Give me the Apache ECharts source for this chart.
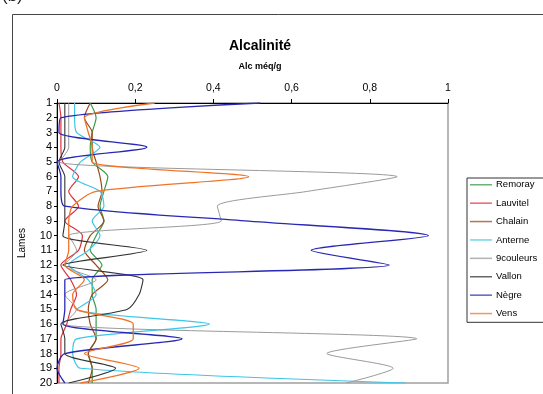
<!DOCTYPE html>
<html>
<head>
<meta charset="utf-8">
<script src="https://cdn.jsdelivr.net/npm/echarts@6/dist/echarts.min.js"></script>
<style>
  html, body { margin: 0; padding: 0; background: #fff; }
  #chart { width: 543px; height: 394px; }
</style>
</head>
<body>
<div id="chart"></div>
<script>
// Alkalinity profiles (méq/g) per lamina, lamina 1 at the top
const lames = [1, 2, 3, 4, 5, 6, 7, 8, 9, 10, 11, 12, 13, 14, 15, 16, 17, 18, 19, 20];
const xTicks = [0, 0.2, 0.4, 0.6, 0.8, 1];

const remoray   = [0.085, 0.10, 0.09, 0.085, 0.09, 0.13, 0.12, 0.11, 0.12, 0.10, 0.085, 0.115, 0.09, 0.09, 0.10, 0.10, 0.10, 0.08, 0.09, 0.09];
const lauvitel  = [0.005, 0.01, 0.01, 0.01, 0.015, 0.055, 0.03, 0.055, 0.02, 0.065, 0.055, 0.01, 0.035, 0.05, 0.035, 0.025, 0.01, 0.01, 0.005, 0.005];
const chalain   = [0.085, 0.07, 0.09, 0.09, 0.10, 0.11, 0.115, 0.105, 0.12, 0.085, 0.07, 0.10, 0.13, 0.09, 0.08, 0.085, 0.10, 0.08, 0.09, 0.08];
const anterne   = [0.045, 0.045, 0.05, 0.11, 0.06, 0.04, 0.11, 0.12, 0.09, 0.11, 0.08, 0.03, 0.08, 0.10, 0.05, 0.39, 0.05, 0.04, 0.06, 0.89];
const couleurs9 = [0.03, 0.03, 0.03, 0.03, 0.005, 0.87, 0.64, 0.41, 0.42, 0.03, 0.05, 0.02, 0.10, 0.02, 0.05, 0.015, 0.92, 0.69, 0.86, 0.74];
const vallon    = [0.02, 0.02, 0.02, 0.02, 0.005, 0.02, 0.02, 0.02, 0.02, 0.015, 0.23, 0.015, 0.22, 0.21, 0.18, 0.01, 0.02, 0.02, 0.15, 0.03];
const negre     = [0.52, 0.01, 0.005, 0.23, 0.0, 0.01, 0.01, 0.02, 0.48, 0.95, 0.65, 0.85, 0.02, 0.02, 0.02, 0.015, 0.32, 0.02, 0.0, 0.02];
const vens      = [0.25, 0.07, 0.08, 0.09, 0.09, 0.49, 0.10, 0.04, 0.03, 0.03, 0.03, 0.02, 0.07, 0.04, 0.05, 0.195, 0.195, 0.07, 0.21, 0.06];

const seriesDefs = [
  { name: 'Remoray',   values: remoray,   color: '#3a9a45', width: 1.2 },
  { name: 'Lauvitel',  values: lauvitel,  color: '#e0303e', width: 1.2 },
  { name: 'Chalain',   values: chalain,   color: '#9a4a1c', width: 1.2 },
  { name: 'Anterne',   values: anterne,   color: '#3cc6e8', width: 1.2 },
  { name: '9couleurs', values: couleurs9, color: '#9a9a9a', width: 1 },
  { name: 'Vallon',    values: vallon,    color: '#333333', width: 1.1 },
  { name: 'Nègre',     values: negre,     color: '#2828b4', width: 1.3 },
  { name: 'Vens',      values: vens,      color: '#f07428', width: 1.3 }
];

const fontFamily = '"Liberation Sans", Arial, sans-serif';
const chart = echarts.init(document.getElementById('chart'), null, { renderer: 'canvas' });

chart.setOption({
  animation: false,
  backgroundColor: '#ffffff',
  textStyle: { fontFamily: fontFamily },
  title: [
    { text: 'Alcalinité', left: 255, top: 34, textAlign: 'center',
      textStyle: { fontSize: 14, fontWeight: 'bold', color: '#000', fontFamily: fontFamily } },
    { text: 'Alc méq/g', left: 255, top: 57, textAlign: 'center',
      textStyle: { fontSize: 9, fontWeight: 'bold', color: '#000', fontFamily: fontFamily } }
  ],
  graphic: [
    { type: 'rect', shape: { x: 12.5, y: 14.5, width: 560, height: 400 },
      style: { fill: 'none', stroke: '#444', lineWidth: 1 }, silent: true },
    { type: 'text', left: 2, top: -12,
      style: { text: '(b)', fontSize: 17, fill: '#222', fontFamily: fontFamily } },
    { type: 'text', x: 22, y: 243, rotation: Math.PI / 2,
      style: { text: 'Lames', fontSize: 10, fill: '#000', fontFamily: fontFamily, align: 'center', verticalAlign: 'middle' } }
  ],
  legend: {
    orient: 'vertical',
    left: 467,
    top: 178,
    padding: [1, 40, 3, 3],
    icon: 'rect',
    itemWidth: 22,
    itemHeight: 1.5,
    itemGap: 6.9,
    borderColor: '#333',
    borderWidth: 1,
    textStyle: { fontSize: 9.5, color: '#000', fontFamily: fontFamily, lineHeight: 11.5, padding: [0, 0, 0, -1] },
    data: seriesDefs.map(s => ({ name: s.name, itemStyle: { color: s.color, opacity: 0.75 } }))
  },
  grid: {
    left: 57, right: 95, top: 103, bottom: 11,
    show: true, borderColor: '#a0a0a0', borderWidth: 1.5
  },
  xAxis: {
    type: 'value',
    position: 'top',
    min: xTicks[0],
    max: xTicks[xTicks.length - 1],
    interval: 0.2,
    axisLine: { show: true, lineStyle: { color: '#000', width: 1 } },
    axisTick: { show: true, length: 4, lineStyle: { color: '#000' } },
    splitLine: { show: false },
    axisLabel: {
      fontSize: 10.5, color: '#000', margin: 9,
      formatter: v => (v === 0 || v === 1) ? String(v) : v.toFixed(1).replace('.', ',')
    }
  },
  yAxis: {
    type: 'value',
    inverse: true,
    min: lames[0],
    max: lames[lames.length - 1],
    interval: 1,
    axisLine: { show: true, lineStyle: { color: '#000', width: 1 } },
    axisTick: { show: true, length: 3, lineStyle: { color: '#000' } },
    splitLine: { show: false },
    axisLabel: { fontSize: 11, color: '#000', margin: 5 }
  },
  series: seriesDefs.map(s => ({
    name: s.name,
    type: 'line',
    data: lames.map((l, i) => [s.values[i], l]),
    symbol: 'none',
    smooth: 0.25,
    color: s.color,
    lineStyle: { color: s.color, width: s.width }
  }))
});
</script>
</body>
</html>
